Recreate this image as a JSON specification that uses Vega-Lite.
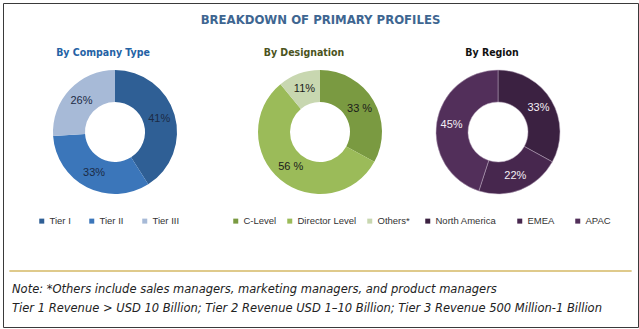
{
  "$schema": "https://vega.github.io/schema/vega-lite/v6.json",
  "padding": {"left": 2, "top": 2, "right": 2, "bottom": 3},
  "background": "white",
  "config": {"view": {"stroke": null}, "font": "Liberation Sans"},
  "bounds": "flush",
  "spacing": -258,
  "vconcat": [
    {
      "bounds": "flush",
      "spacing": 0,
      "resolve": {"scale": {"color": "independent"}, "legend": {"color": "independent"}},
      "hconcat": [
        {
          "width": 224, "height": 258,
          "title": {"text": "By Company Type", "color": "#2462a5", "font": "'DejaVu Sans Condensed', 'Liberation Sans', sans-serif", "fontSize": 10.5, "fontWeight": "bold", "anchor": "middle", "frame": "group", "baseline": "middle", "offset": 0, "dx": -12, "dy": 60},
          "data": {"values": [
            {"cat": "Tier I", "value": 41, "order": 1, "label": "41%"},
            {"cat": "Tier II", "value": 33, "order": 2, "label": "33%"},
            {"cat": "Tier III", "value": 26, "order": 3, "label": "26%"}
          ]},
          "encoding": {
            "theta": {"field": "value", "type": "quantitative", "stack": true},
            "order": {"field": "order"}
          },
          "layer": [
            {"mark": {"type": "arc", "innerRadius": 30, "outerRadius": 62},
             "encoding": {"color": {"field": "cat", "type": "nominal",
               "scale": {"domain": ["Tier I", "Tier II", "Tier III"], "range": ["#2f5f95", "#3b76ba", "#a7bad7"]},
               "legend": {"title": null, "orient": "none", "legendX": 34, "legendY": 213, "direction": "horizontal", "columns": 3, "symbolType": "square", "symbolSize": 25, "symbolStrokeWidth": 0, "labelFont": "Liberation Sans", "labelFontSize": 9.5, "labelColor": "#333333", "columnPadding": 16, "labelOffset": 3}}}},
            {"mark": {"type": "text", "radius": 46, "fontSize": 11, "color": "#1c2b45"},
             "encoding": {"text": {"field": "label"}}}
          ]
        },
        {
          "width": 186, "height": 258,
          "title": {"text": "By Designation", "color": "#4b5320", "font": "'DejaVu Sans Condensed', 'Liberation Sans', sans-serif", "fontSize": 10.5, "fontWeight": "bold", "anchor": "middle", "frame": "group", "baseline": "middle", "offset": 0, "dx": -16, "dy": 60},
          "data": {"values": [
            {"cat": "C-Level", "value": 33, "order": 1, "label": "33 %"},
            {"cat": "Director Level", "value": 56, "order": 2, "label": "56 %"},
            {"cat": "Others*", "value": 11, "order": 3, "label": "11%"}
          ]},
          "encoding": {
            "theta": {"field": "value", "type": "quantitative", "stack": true},
            "order": {"field": "order"}
          },
          "layer": [
            {"mark": {"type": "arc", "innerRadius": 30, "outerRadius": 62},
             "encoding": {"color": {"field": "cat", "type": "nominal",
               "scale": {"domain": ["C-Level", "Director Level", "Others*"], "range": ["#7a9a41", "#9bbb59", "#c8d7b0"]},
               "legend": {"title": null, "orient": "none", "legendX": 4, "legendY": 213, "direction": "horizontal", "columns": 3, "symbolType": "square", "symbolSize": 25, "symbolStrokeWidth": 0, "labelFont": "Liberation Sans", "labelFontSize": 9.5, "labelColor": "#333333", "columnPadding": 8, "labelOffset": 3}}}},
            {"mark": {"type": "text", "radius": 46, "fontSize": 11, "color": "#1a1a1a"},
             "encoding": {"text": {"field": "label"}}}
          ]
        },
        {
          "width": 170, "height": 258,
          "title": {"text": "By Region", "color": "#111111", "font": "'DejaVu Sans Condensed', 'Liberation Sans', sans-serif", "fontSize": 10.5, "fontWeight": "bold", "anchor": "middle", "frame": "group", "baseline": "middle", "offset": 0, "dx": -6, "dy": 60},
          "data": {"values": [
            {"cat": "North America", "value": 33, "order": 1, "label": "33%"},
            {"cat": "EMEA", "value": 22, "order": 2, "label": "22%"},
            {"cat": "APAC", "value": 45, "order": 3, "label": "45%"}
          ]},
          "encoding": {
            "theta": {"field": "value", "type": "quantitative", "stack": true},
            "order": {"field": "order"}
          },
          "layer": [
            {"mark": {"type": "arc", "innerRadius": 30, "outerRadius": 62, "stroke": "#b9a6bd", "strokeWidth": 0.5},
             "encoding": {"color": {"field": "cat", "type": "nominal",
               "scale": {"domain": ["North America", "EMEA", "APAC"], "range": ["#3b2141", "#47274e", "#522f5a"]},
               "legend": {"title": null, "orient": "none", "legendX": 10, "legendY": 213, "direction": "horizontal", "columns": 3, "symbolType": "square", "symbolSize": 25, "symbolStrokeWidth": 0, "labelFont": "Liberation Sans", "labelFontSize": 9.5, "labelColor": "#333333", "columnPadding": 18, "labelOffset": 3}}}},
            {"mark": {"type": "text", "radius": 47, "fontSize": 11, "color": "#f3eef4"},
             "encoding": {"text": {"field": "label"}}}
          ]
        }
      ]
    },
    {
      "width": 635, "height": 324,
      "view": {"stroke": "#3a3a3a", "strokeWidth": 1},
      "title": {"text": "BREAKDOWN OF PRIMARY PROFILES", "font": "'DejaVu Sans Condensed', 'Liberation Sans', sans-serif", "fontSize": 13, "fontWeight": "bold", "color": "#3e6691", "anchor": "middle", "frame": "group", "baseline": "middle", "offset": 0, "dy": 30},
      "layer": [
        {
          "data": {"values": [{"line": 0}]},
          "mark": {"type": "rule", "color": "#d4b865", "strokeWidth": 1.5},
          "encoding": {
            "y": {"field": "line", "type": "quantitative", "scale": {"domain": [-14.1, 2.95], "reverse": true, "nice": false, "zero": false}, "axis": null},
            "x": {"datum": 0.01, "type": "quantitative", "scale": {"domain": [0, 1]}, "axis": null},
            "x2": {"datum": 0.99}
          }
        },
        {
          "data": {"values": [
            {"line": 1, "text": "Note: *Others include sales managers, marketing managers, and product managers"},
            {"line": 2, "text": "Tier 1 Revenue > USD 10 Billion; Tier 2 Revenue USD 1–10 Billion; Tier 3 Revenue 500 Million-1 Billion"}
          ]},
          "mark": {"type": "text", "align": "left", "baseline": "middle", "font": "DejaVu Sans", "fontStyle": "italic", "fontSize": 11.5, "color": "#222222"},
          "encoding": {
            "y": {"field": "line", "type": "quantitative", "scale": {"domain": [-14.1, 2.95], "reverse": true, "nice": false, "zero": false}, "axis": null},
            "x": {"datum": 0.0142, "type": "quantitative", "scale": {"domain": [0, 1]}, "axis": null},
            "text": {"field": "text"}
          }
        }
      ]
    }
  ]
}
